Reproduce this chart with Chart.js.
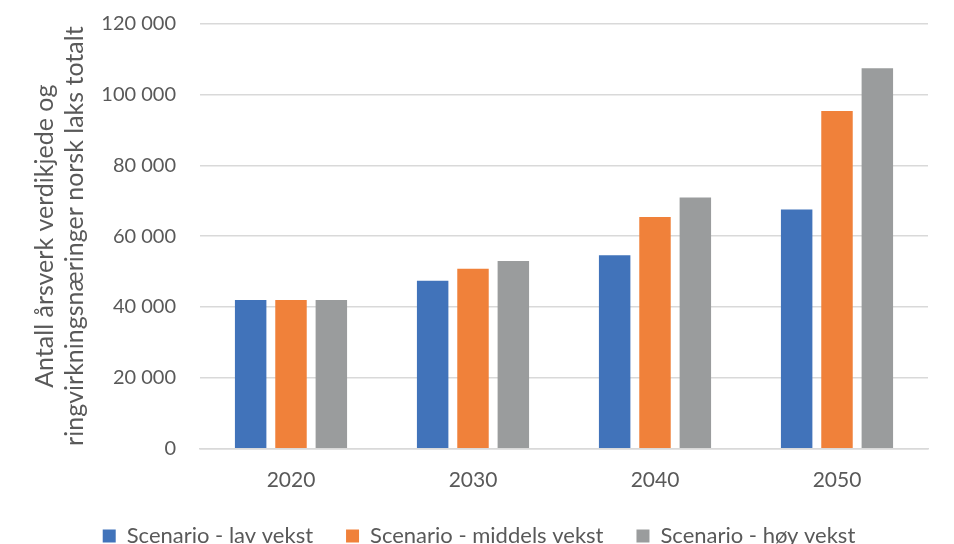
<!DOCTYPE html>
<html>
<head>
<meta charset="utf-8">
<script src="https://cdn.jsdelivr.net/npm/chart.js@4/dist/chart.umd.min.js"></script>
<style>
  html, body { margin: 0; padding: 0; background: #ffffff; }
  #wrap { width: 954px; height: 544px; }
</style>
</head>
<body>
<div id="wrap"><canvas id="chart" width="954" height="544"></canvas></div>
<script>
// Årsverk per scenario, verdikjede + ringvirkninger
const years = ['2020', '2030', '2040', '2050'];
const lavVekst = [42000, 47400, 54600, 67500];
const middelsVekst = [42000, 50800, 65400, 95300];
const hoyVekst = [42000, 53000, 70900, 107400];
const seriesNames = ['Scenario - lav vekst', 'Scenario - middels vekst', 'Scenario - høy vekst'];
const yTitle = ['Antall årsverk verdikjede og', 'ringvirkningsnæringer norsk laks totalt'];

const FONT = 'Lato, "Open Sans", sans-serif';
const TEXT = '#595959';

function fmt(v) {
  return String(v).replace(/\B(?=(\d{3})+(?!\d))/g, ' ');
}

// Lift the legend row a little closer to the category labels
const legendLift = {
  id: 'legendLift',
  afterLayout(chart) {
    const lg = chart.legend;
    if (lg) { lg.top -= 12; lg.bottom -= 12; }
  }
};

new Chart(document.getElementById('chart'), {
  type: 'bar',
  data: {
    labels: years,
    datasets: [
      { label: seriesNames[0], data: lavVekst, backgroundColor: '#4173ba' },
      { label: seriesNames[1], data: middelsVekst, backgroundColor: '#f0813a' },
      { label: seriesNames[2], data: hoyVekst, backgroundColor: '#9a9c9d' }
    ]
  },
  plugins: [legendLift],
  options: {
    responsive: false,
    animation: false,
    devicePixelRatio: 1,
    layout: { padding: { top: 0, right: 26, left: 30, bottom: -25 } },
    datasets: {
      bar: { categoryPercentage: 0.665, barPercentage: 0.78 }
    },
    plugins: {
      tooltip: { enabled: false },
      legend: {
        position: 'bottom',
        labels: {
          font: { family: FONT, size: 22 },
          color: TEXT,
          boxWidth: 13,
          boxHeight: 13,
          padding: 33
        }
      }
    },
    scales: {
      x: {
        grid: { display: false },
        border: { display: true, color: '#d9d9d9', width: 1.5 },
        ticks: { font: { family: FONT, size: 21 }, color: TEXT, padding: 11 }
      },
      y: {
        min: 0,
        max: 120000,
        afterFit(scale) {
          scale.width = 170;
          scale.paddingTop = 23.5;
        },
        grid: { color: '#d9d9d9', lineWidth: 1.5, drawTicks: false },
        border: { display: false },
        ticks: {
          stepSize: 20000,
          font: { family: FONT, size: 20 },
          color: TEXT,
          padding: 24,
          callback: fmt
        },
        title: {
          display: true,
          text: yTitle,
          font: { family: FONT, size: 25, lineHeight: 1.2 },
          color: TEXT,
          padding: { top: 0, bottom: 8 }
        }
      }
    }
  }
});
</script>
</body>
</html>
